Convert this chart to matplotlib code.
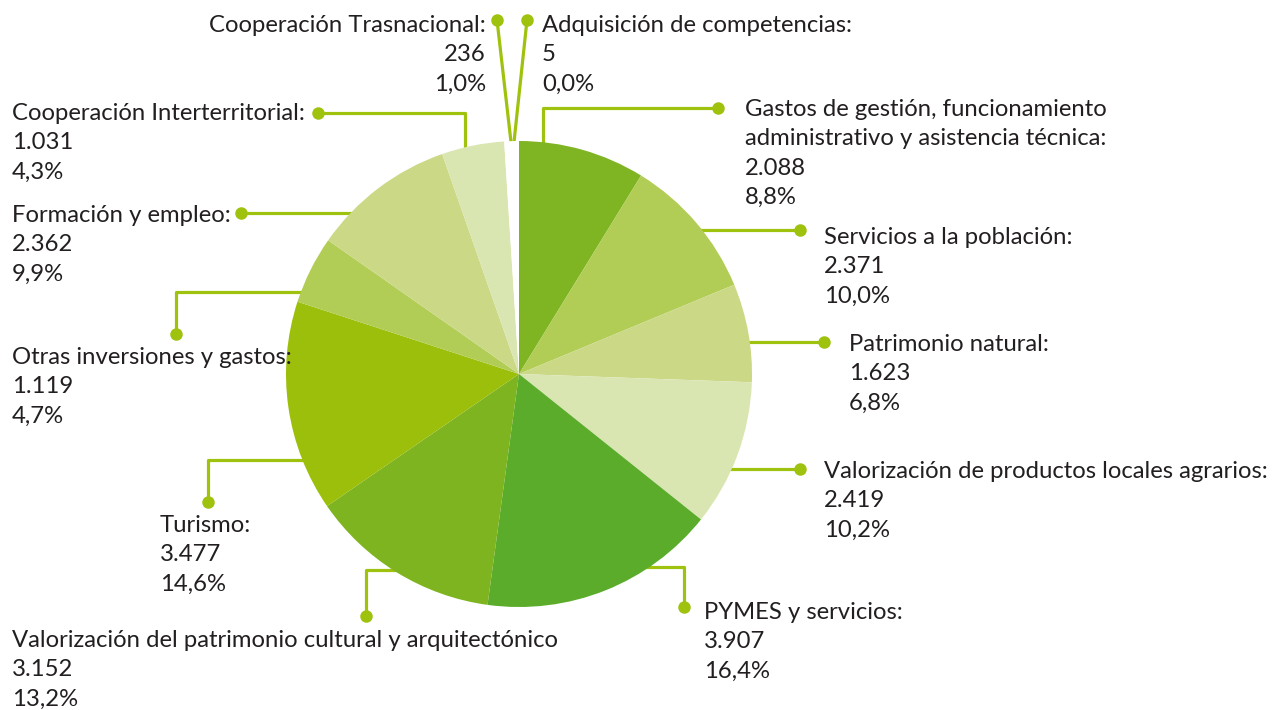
import matplotlib.pyplot as plt

# data (values in thousands, Spanish number format)
categories = [
    "Gastos de gestión, funcionamiento\nadministrativo y asistencia técnica:",
    "Servicios a la población:",
    "Patrimonio natural:",
    "Valorización de productos locales agrarios:",
    "PYMES y servicios:",
    "Valorización del patrimonio cultural y arquitectónico",
    "Turismo:",
    "Otras inversiones y gastos:",
    "Formación y empleo:",
    "Cooperación Interterritorial:",
    "Cooperación Trasnacional:",
    "Adquisición de competencias:",
]
values = [2088, 2371, 1623, 2419, 3907, 3152, 3477, 1119, 2362, 1031, 236, 5]
value_labels = ["2.088", "2.371", "1.623", "2.419", "3.907", "3.152",
                "3.477", "1.119", "2.362", "1.031", "236", "5"]
pct_labels = ["8,8%", "10,0%", "6,8%", "10,2%", "16,4%", "13,2%",
              "14,6%", "4,7%", "9,9%", "4,3%", "1,0%", "0,0%"]
colors = ["#7fb522", "#b2cd55", "#cbd986", "#dae6b2", "#5aac2a", "#7db41f",
          "#9bbf0a", "#b2cd55", "#cbd986", "#dae6b2", "#ffffff", "#ffffff"]

# layout (pixel coordinates, y downwards)
CENTER = (519, 374)
RADIUS = 233
# text anchor (x, first baseline), horizontal alignment
text_pos = [(745, 116, "left"), (824, 244, "left"), (849, 351, "left"),
            (824, 478, "left"), (704, 619, "left"), (12, 647, "left"),
            (160, 532, "left"), (12, 364, "left"), (12, 222, "left"),
            (12, 120, "left"), (486, 32, "right"), (542, 32, "left")]
# leader paths: dot first, then towards the pie
leaders = [
    [(718, 108), (543, 108), (543, 150)],
    [(800, 230), (700, 230)],
    [(824, 342), (740, 342)],
    [(800, 469), (720, 469)],
    [(684, 607), (684, 567), (640, 567)],
    [(366, 616), (366, 570), (410, 570)],
    [(208, 502), (208, 460), (310, 460)],
    [(176, 334), (176, 292), (310, 292)],
    [(241, 213), (360, 213)],
    [(318, 113), (465, 113), (465, 155)],
    [(497, 20), (511, 142)],
    [(527, 20), (514, 142)],
]
LINE_COLOR = "#9fc20e"
TEXT_COLOR = "#231f20"
LINE_STEP = 29.4

plt.rcParams['font.family'] = ['Lato', 'DejaVu Sans']

fig = plt.figure(figsize=(12.72, 7.10), dpi=100)
ax = fig.add_axes([0, 0, 1, 1])

# y axis is inverted, so counterclock=True reads clockwise on screen
ax.pie(values, colors=colors, center=CENTER, radius=RADIUS,
       startangle=-90, counterclock=True,
       wedgeprops=dict(linewidth=0, zorder=3))

for path in leaders:
    xs = [p[0] for p in path]
    ys = [p[1] for p in path]
    ax.plot(xs, ys, color=LINE_COLOR, lw=2.3, zorder=1, solid_capstyle="butt")
    ax.plot(xs[0], ys[0], "o", color=LINE_COLOR, ms=9, mew=0, zorder=2)

for cat, val, pct, (x, y, ha) in zip(categories, value_labels, pct_labels, text_pos):
    lines = cat.split("\n") + [val, pct]
    for i, line in enumerate(lines):
        ax.text(x, y + i * LINE_STEP, line, ha=ha, va="baseline",
                fontsize=17.2, color=TEXT_COLOR)

ax.set_xlim(0, 1272)
ax.set_ylim(710, 0)
ax.set_aspect("equal")
ax.axis("off")

fig.savefig("out.png", dpi=100)
